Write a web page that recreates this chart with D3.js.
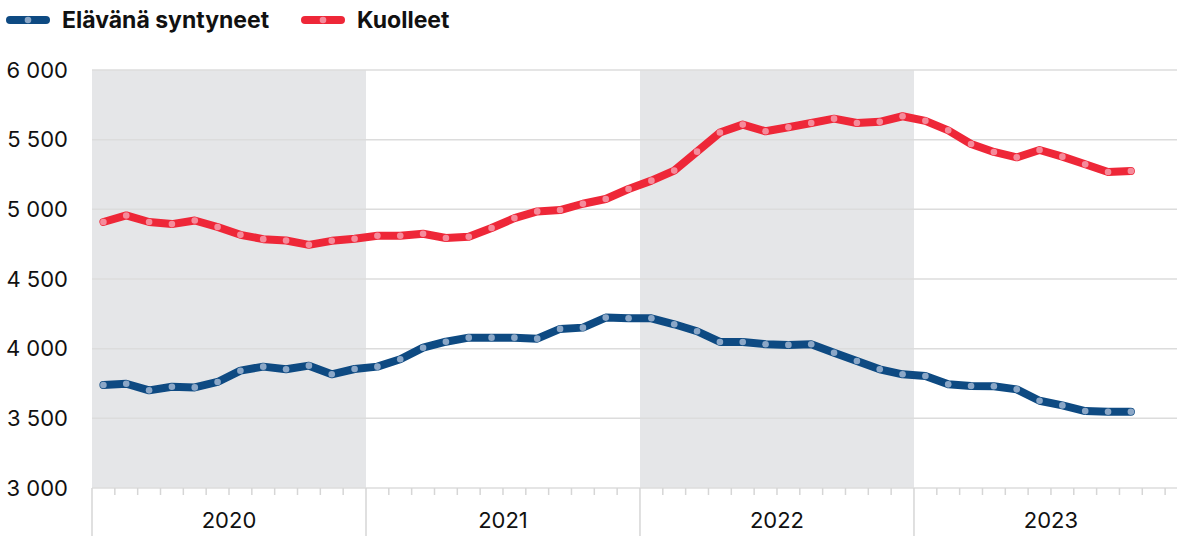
<!DOCTYPE html>
<html>
<head>
<meta charset="utf-8">
<script src="https://cdn.jsdelivr.net/npm/d3@7"></script>
<style>
  body { margin: 0; background: #fff; }
  svg { display: block; font-family: Inter, "Liberation Sans", sans-serif; }
</style>
</head>
<body>
<div id="chart"></div>
<script>
// monthly values, Jan 2020 – Oct 2023
const years = [2020, 2021, 2022, 2023];
const yTicks = [3000, 3500, 4000, 4500, 5000, 5500, 6000];

const births = [
    3739, 3748, 3701, 3727, 3722, 3761, 3842, 3871, 3852, 3878, 3816, 3854,
    3871, 3924, 4007, 4050, 4079, 4079, 4079, 4072, 4142, 4151, 4223, 4218,
    4218, 4175, 4125, 4048, 4048, 4032, 4027, 4032, 3971, 3912, 3852, 3816,
    3804, 3744, 3732, 3730, 3708, 3626, 3593, 3552, 3547, 3547
];
const deaths = [
    4909, 4956, 4909, 4894, 4920, 4873, 4817, 4786, 4776, 4745, 4774, 4789,
    4810, 4810, 4825, 4794, 4803, 4866, 4937, 4985, 4995, 5040, 5074, 5146,
    5206, 5278, 5414, 5551, 5608, 5560, 5589, 5620, 5651, 5620, 5628, 5668,
    5635, 5567, 5469, 5412, 5373, 5426, 5378, 5323, 5268, 5275
];

const series = [
    {name: 'Elävänä syntyneet', values: births, color: '#0e4a82', dot: '#8ba7c7'},
    {name: 'Kuolleet', values: deaths, color: '#ee2738', dot: '#f58b9b'}
];

const width = 1177;
const height = 536;
const margin = {top: 70, right: 0, bottom: 48, left: 92};

const svg = d3.select('#chart')
    .append('svg')
        .attr('width', width)
        .attr('height', height);

// month index scale (months drawn with equal width)
const x = d3.scaleLinear()
    .domain([0, 47.52])
    .range([margin.left, width - margin.right]);
const y = d3.scaleLinear()
    .domain([3000, 6000])
    .range([height - margin.bottom, margin.top]);

// shaded years
svg.append('g')
    .selectAll('rect')
    .data(years.filter((d, i) => i % 2 === 0))
    .join('rect')
        .attr('x', d => x((d - 2020) * 12))
        .attr('width', d => x((d - 2020) * 12 + 12) - x((d - 2020) * 12))
        .attr('y', y(6000))
        .attr('height', y(3000) - y(6000))
        .attr('fill', '#e5e6e8');

// gridlines + y labels
const yg = svg.append('g');
yg.selectAll('line')
    .data(yTicks)
    .join('line')
        .attr('x1', margin.left)
        .attr('x2', width)
        .attr('y1', d => y(d))
        .attr('y2', d => y(d))
        .attr('stroke', '#dcdcdc')
        .attr('stroke-width', 1.5);
yg.selectAll('text')
    .data(yTicks)
    .join('text')
        .attr('x', 68)
        .attr('y', d => y(d))
        .attr('dy', '0.35em')
        .attr('text-anchor', 'end')
        .attr('font-size', 22)
        .attr('fill', '#111')
        .text(d => d3.format(',')(d).replace(',', ' '));

// x axis: month ticks, year separators, year labels
const xg = svg.append('g');
const months = d3.range(0, 48).filter(m => m % 12 !== 0);
xg.selectAll('line.m')
    .data(months)
    .join('line')
        .attr('class', 'm')
        .attr('x1', d => x(d))
        .attr('x2', d => x(d))
        .attr('y1', y(3000))
        .attr('y2', y(3000) + 7)
        .attr('stroke', '#d6d6d6')
        .attr('stroke-width', 1.5);
xg.selectAll('line.yr')
    .data(years)
    .join('line')
        .attr('class', 'yr')
        .attr('x1', d => x((d - 2020) * 12))
        .attr('x2', d => x((d - 2020) * 12))
        .attr('y1', y(3000))
        .attr('y2', height)
        .attr('stroke', '#d6d6d6')
        .attr('stroke-width', 1.5);
xg.selectAll('text')
    .data(years)
    .join('text')
        .attr('x', d => x((d - 2020) * 12 + 6))
        .attr('y', 528)
        .attr('text-anchor', 'middle')
        .attr('font-size', 22)
        .attr('fill', '#111')
        .text(d => d);

// lines + dots
const line = d3.line()
    .x((d, i) => x(i + 0.5))
    .y(d => y(d));

const sg = svg.append('g')
    .selectAll('g')
    .data(series)
    .join('g');
sg.append('path')
    .attr('d', d => line(d.values))
    .attr('fill', 'none')
    .attr('stroke', d => d.color)
    .attr('stroke-width', 8)
    .attr('stroke-linejoin', 'round')
    .attr('stroke-linecap', 'round');
sg.selectAll('circle')
    .data(d => d.values.map(v => ({v, c: d.dot})))
    .join('circle')
        .attr('cx', (d, i) => x(i + 0.5))
        .attr('cy', d => y(d.v))
        .attr('r', 3.3)
        .attr('fill', d => d.c);

// legend
const legendX = [8, 303];
const lg = svg.append('g')
    .selectAll('g')
    .data(series)
    .join('g')
        .attr('transform', (d, i) => `translate(${legendX[i]},20)`);
lg.append('line')
    .attr('x1', 2).attr('x2', 38)
    .attr('stroke', d => d.color)
    .attr('stroke-width', 8)
    .attr('stroke-linecap', 'round');
lg.append('circle')
    .attr('cx', 20)
    .attr('r', 3.3)
    .attr('fill', d => d.dot);
lg.append('text')
    .attr('x', 54)
    .attr('dy', '0.35em')
    .attr('font-size', 23)
    .attr('font-weight', 700)
    .attr('fill', '#111')
    .text(d => d.name);
</script>
</body>
</html>
